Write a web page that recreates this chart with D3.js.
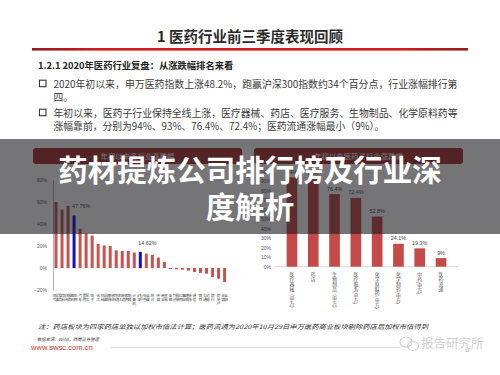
<!DOCTYPE html>
<html>
<head>
<meta charset="utf-8">
<script src="https://cdn.jsdelivr.net/npm/d3@7/dist/d3.min.js"></script>
<style>
  body { margin: 0; background: #fff; }
  svg { display: block; font-family: "Noto Sans CJK SC", "Noto Sans", sans-serif; }
</style>
</head>
<body>
<div id="chart"></div>
<script>
// ---- data ----
var leftCats = ["电气设备","食品饮料","休闲服务","医药生物","汽车","国防军工","电子","化工","机械设备","建筑材料",
    "农林牧渔","轻工制造","家用电器","计算机","沪深300","有色金属","综合","传媒","商业贸易","采掘",
    "纺织服装","公用事业","建筑装饰","通信","钢铁","交通运输","银行","房地产","非银金融"];
var leftValues = [0.60,0.53,0.565,0.4776,0.355,0.315,0.295,0.22,0.205,0.20,
    0.16,0.155,0.155,0.14,0.1462,0.13,0.12,0.095,0.055,-0.009,
    -0.012,-0.015,-0.024,-0.036,-0.045,-0.052,-0.082,-0.097,-0.127];
var leftHighlight = ["医药生物","沪深300"];
var leftTicks = [-0.2, 0, 0.2, 0.4, 0.6, 0.8];

var rightCats = ["医疗器械（申万）","药店","生物制品（申万）","医疗服务(申万)","化学原料药(申万)","化学制药(申万)","中药(申万)","医药流通"];
var rightValues = [0.94, 0.93, 0.764, 0.724, 0.528, 0.241, 0.193, 0.09];
var rightLabels = ["94%","93%","76.4%","72.4%","52.8%","24.1%","19.3%","9%"];
var rightTicks = [0, 0.1, 0.2, 0.3, 0.4, 0.5, 0.6, 0.7, 0.8, 0.9, 1.0];

var bullet1 = ["2020年初以来，申万医药指数上涨48.2%，跑赢沪深300指数约34个百分点，行业涨幅排行第", "四。"];
var bullet2 = ["年初以来，医药子行业保持全线上涨，医疗器械、药店、医疗服务、生物制品、化学原料药等", "涨幅靠前，分别为94%、93%、76.4%、72.4%；医药流通涨幅最小（9%）。"];

var W = 500, H = 375;

var svg = d3.select("#chart").append("svg")
    .attr("width", W)
    .attr("height", H);

svg.append("rect").attr("width", W).attr("height", H).attr("fill", "#fff");

// ---- slide header ----
svg.append("text")
    .attr("x", 250).attr("y", 42)
    .attr("text-anchor", "middle")
    .attr("font-size", 14.5).attr("font-weight", "bold")
    .attr("fill", "#2b2b2b")
    .text("1 医药行业前三季度表现回顾");

var grad = svg.append("defs").append("linearGradient").attr("id", "redline");
grad.append("stop").attr("offset", "0%").attr("stop-color", "#8e1f1f");
grad.append("stop").attr("offset", "15%").attr("stop-color", "#d01c1c");
grad.append("stop").attr("offset", "85%").attr("stop-color", "#d01c1c");
grad.append("stop").attr("offset", "100%").attr("stop-color", "#8e1f1f");

svg.append("rect")
    .attr("x", 32).attr("y", 48).attr("width", 436).attr("height", 2.6)
    .attr("fill", "url(#redline)");

svg.append("text")
    .attr("x", 38).attr("y", 68.5)
    .attr("font-size", 9.3).attr("font-weight", "bold")
    .attr("fill", "#222")
    .text("1.2.1 2020年医药行业复盘：从涨跌幅排名来看");

function bullet(lines, y) {
    svg.append("rect")
        .attr("x", 39.5).attr("y", y - 3.8).attr("width", 6.5).attr("height", 6.5)
        .attr("fill", "none").attr("stroke", "#333").attr("stroke-width", 1.1);
    lines.forEach(function(t, i) {
        var txt = svg.append("text")
            .attr("x", 53.5).attr("y", y + 3.5 + i * 13.5)
            .attr("font-size", 9.8)
            .attr("fill", "#3a3a3a")
            .text(t);
        // first line of each bullet runs to the right margin
        if (i == 0) txt.attr("textLength", 404).attr("lengthAdjust", "spacingAndGlyphs");
    });
}
bullet(bullet1, 84);
bullet(bullet2, 113);

// ---- panel headers ----
function panelHeader(x0, x1, label) {
    svg.append("rect")
        .attr("x", x0).attr("y", 148).attr("width", x1 - x0).attr("height", 16)
        .attr("rx", 3)
        .attr("fill", "#ad3434");
    svg.append("text")
        .attr("x", (x0 + x1) / 2).attr("y", 158.5)
        .attr("text-anchor", "middle")
        .attr("font-size", 7.4)
        .attr("fill", "#fff")
        .text(label);
}
panelHeader(33, 242, "年初以来各行业涨跌幅");
panelHeader(254, 463, "年初以来医药子行业涨跌幅");

// ---- left chart ----
var lx = d3.scaleBand()
    .domain(leftCats)
    .range([53, 227.6])
    .paddingInner(0.5)
    .paddingOuter(0.25);

var ly = d3.scaleLinear()
    .domain([-0.2, 0.8])
    .range([290, 180]);

var lAxis = d3.axisLeft(ly)
    .tickValues(leftTicks)
    .tickSize(0)
    .tickPadding(6)
    .tickFormat(d3.format(".0%"));

var lg = svg.append("g")
    .attr("transform", "translate(53,0)")
    .call(lAxis);
lg.select(".domain").attr("stroke", "#9a9a9a").attr("stroke-width", 0.8);
lg.selectAll("text").attr("font-size", 5).attr("fill", "#555").attr("font-family", "Liberation Sans, Arial, sans-serif");

svg.append("line")
    .attr("x1", 53).attr("x2", 228)
    .attr("y1", ly(0)).attr("y2", ly(0))
    .attr("stroke", "#dcdcdc").attr("stroke-width", 0.6);

svg.selectAll(".lbar")
    .data(leftValues)
    .enter().append("rect")
    .attr("class", "lbar")
    .attr("x", function(d, i) { return lx(leftCats[i]); })
    .attr("width", lx.bandwidth())
    .attr("y", function(d) { return ly(Math.max(0, d)); })
    .attr("height", function(d) { return Math.abs(ly(d) - ly(0)); })
    .attr("fill", function(d, i) { return leftHighlight.indexOf(leftCats[i]) >= 0 ? "#1010c8" : "#c65552"; });

leftHighlight.forEach(function(c) {
    var i = leftCats.indexOf(c);
    svg.append("text")
        .attr("x", lx(c) + lx.bandwidth() / 2 + 7)
        .attr("y", ly(leftValues[i]) - 7)
        .attr("text-anchor", "middle")
        .attr("font-size", 5.4)
        .attr("fill", "#444")
        .attr("font-family", "Liberation Sans, Arial, sans-serif")
        .text(d3.format(".2%")(leftValues[i]));
});

// vertical category labels, two characters per column
leftCats.forEach(function(c, i) {
    var cx = lx(c) + lx.bandwidth() / 2;
    var chunks = c.length > 3 ? [c.slice(0, 2), c.slice(2)] : [c];
    chunks.forEach(function(ch, k) {
        var off = chunks.length == 1 ? 0 : (k == 0 ? -1.5 : 1.5);
        svg.append("text")
            .attr("x", cx + off).attr("y", 294)
            .attr("font-size", 3.8)
            .attr("fill", "#4a4a4a")
            .style("writing-mode", "vertical-rl")
            .text(ch);
    });
});

// ---- right chart ----
var rx = d3.scaleBand()
    .domain(rightCats)
    .range([276, 457])
    .paddingInner(0.5)
    .paddingOuter(0.5);

var ry = d3.scaleLinear()
    .domain([0, 1])
    .range([266.7, 171.7]);

var rAxis = d3.axisLeft(ry)
    .tickValues(rightTicks)
    .tickSize(0)
    .tickPadding(3)
    .tickFormat(d3.format(".0%"));

var rg = svg.append("g")
    .attr("transform", "translate(274,0)")
    .call(rAxis);
rg.select(".domain").remove();
rg.selectAll("text").attr("font-size", 5).attr("fill", "#555").attr("font-family", "Liberation Sans, Arial, sans-serif");

svg.append("line")
    .attr("x1", 274).attr("x2", 458)
    .attr("y1", ry(0)).attr("y2", ry(0))
    .attr("stroke", "#c8c8c8").attr("stroke-width", 0.7);

svg.selectAll(".rbar")
    .data(rightValues)
    .enter().append("rect")
    .attr("class", "rbar")
    .attr("x", function(d, i) { return rx(rightCats[i]); })
    .attr("width", rx.bandwidth())
    .attr("y", function(d) { return ry(d); })
    .attr("height", function(d) { return ry(0) - ry(d); })
    .attr("fill", "#c44a47");

svg.selectAll(".rlab")
    .data(rightValues)
    .enter().append("text")
    .attr("class", "rlab")
    .attr("x", function(d, i) { return rx(rightCats[i]) + rx.bandwidth() / 2; })
    .attr("y", function(d) { return ry(d) - 3.5; })
    .attr("text-anchor", "middle")
    .attr("font-size", 5.4)
    .attr("fill", "#444")
    .attr("font-family", "Liberation Sans, Arial, sans-serif")
    .text(function(d, i) { return rightLabels[i]; });

svg.selectAll(".rcat")
    .data(rightCats)
    .enter().append("text")
    .attr("class", "rcat")
    .attr("x", function(d) { return rx(d) + rx.bandwidth() / 2; })
    .attr("y", 272)
    .attr("font-size", 4.8)
    .attr("fill", "#555")
    .style("writing-mode", "vertical-rl")
    .text(function(d) { return d; });

// ---- footer ----
svg.append("text")
    .attr("x", 38).attr("y", 329)
    .attr("font-size", 6.2)
    .attr("font-style", "italic")
    .attr("fill", "#333")
    .attr("textLength", 390).attr("lengthAdjust", "spacingAndGlyphs")
    .text("注：药店板块为四家药店单独以加权市值法计算；医药流通为2020年10月29日申万医药商业板块剔除药店后加权市值得到");

svg.append("text")
    .attr("x", 37).attr("y", 340.5)
    .attr("font-size", 4.3)
    .attr("font-style", "italic")
    .attr("fill", "#444")
    .text("数据来源：Wind，西南证券整理");

svg.append("text")
    .attr("x", 31).attr("y", 350.3)
    .attr("font-size", 7.6)
    .attr("fill", "#c0392b")
    .attr("font-family", "Liberation Sans, Arial, sans-serif")
    .text("www.swsc.com.cn");

svg.append("line")
    .attr("x1", 110).attr("x2", 400)
    .attr("y1", 347.6).attr("y2", 347.6)
    .attr("stroke", "#bdbdbd").attr("stroke-width", 0.6);

// watermark
var wm = svg.append("g").attr("fill", "none").attr("stroke", "#cfcfcf").attr("stroke-width", 1.1);
wm.append("ellipse").attr("cx", 406).attr("cy", 342).attr("rx", 6).attr("ry", 5);
wm.append("ellipse").attr("cx", 413).attr("cy", 346).attr("rx", 5.5).attr("ry", 4.5);
svg.append("text")
    .attr("x", 421).attr("y", 348)
    .attr("font-size", 12.5)
    .attr("fill", "#d0d0d0")
    .text("报告研究所");
svg.append("text")
    .attr("x", 465).attr("y", 352)
    .attr("font-size", 4)
    .attr("fill", "#777")
    .text("12");

// ---- dark overlay banner with title ----
svg.append("rect")
    .attr("x", 0).attr("y", 139).attr("width", W).attr("height", 95)
    .attr("fill", "rgb(25,25,30)").attr("fill-opacity", 0.6);

var titleLines = ["药材提炼公司排行榜及行业深", "度解析"];
titleLines.forEach(function(t, i) {
    svg.append("text")
        .attr("x", 250).attr("y", 180.5 + i * 37)
        .attr("text-anchor", "middle")
        .attr("font-size", 29.5)
        .attr("font-weight", "bold")
        .attr("fill", "#fff")
        .text(t);
});
</script>
</body>
</html>
